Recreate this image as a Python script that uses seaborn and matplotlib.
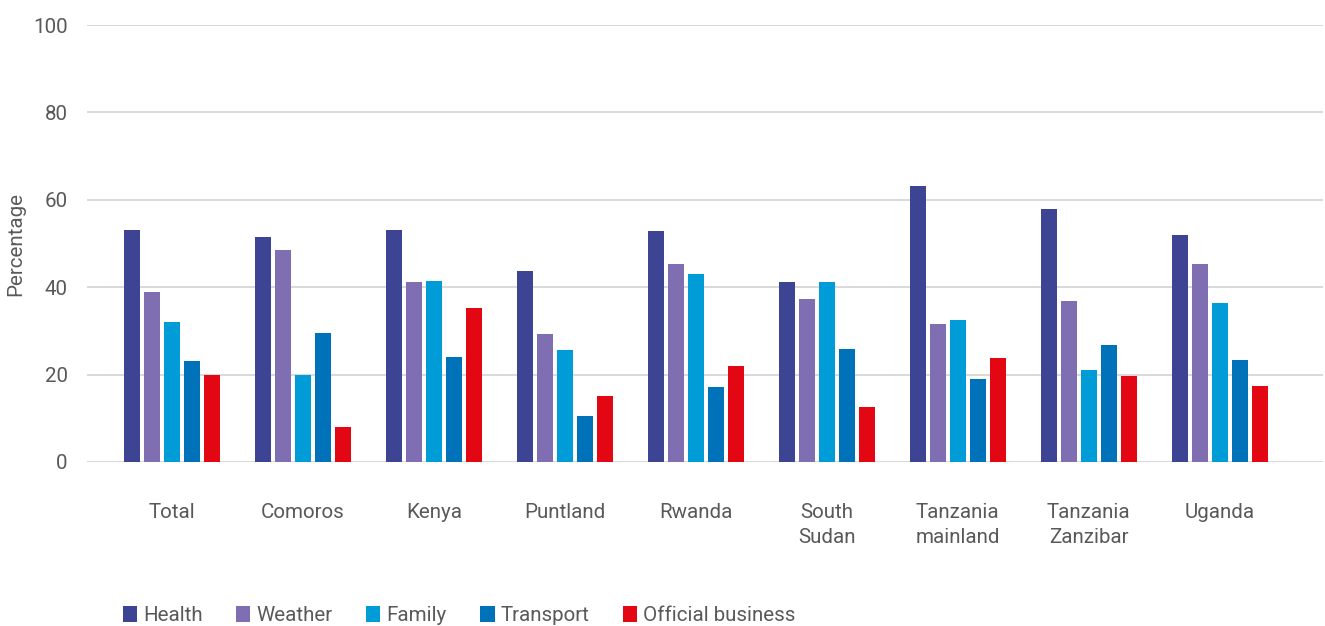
import numpy as np
import pandas as pd
import matplotlib
matplotlib.use("Agg")
import matplotlib.pyplot as plt
import seaborn as sns

# Reasons for travel, share of respondents by country/region
regions = ["Total", "Comoros", "Kenya", "Puntland", "Rwanda",
           "South\nSudan", "Tanzania\nmainland", "Tanzania\nZanzibar", "Uganda"]
reasons = ["Health", "Weather", "Family", "Transport", "Official business"]

health = [53.0, 51.6, 53.1, 43.6, 52.8, 41.1, 63.1, 58.0, 51.9]
weather = [39.0, 48.5, 41.1, 29.4, 45.3, 37.4, 31.5, 36.8, 45.4]
family = [32.0, 19.9, 41.4, 25.6, 43.0, 41.1, 32.4, 21.0, 36.3]
transport = [23.0, 29.5, 24.1, 10.5, 17.2, 25.8, 19.1, 26.7, 23.3]
official = [20.0, 7.9, 35.3, 15.0, 21.9, 12.6, 23.7, 19.6, 17.3]

colors = ["#3c4493", "#7f6fb2", "#009cd8", "#0072b9", "#e30613"]

series = [health, weather, family, transport, official]
df = pd.DataFrame({
    "Region": np.tile(regions, len(reasons)),
    "Reason": np.repeat(reasons, len(regions)),
    "Percentage": np.concatenate(series),
})

sns.set_theme(style="white")
plt.rcParams["font.family"] = ["Roboto", "DejaVu Sans"]
text_color = "#595959"
fs = 14.8

fig = plt.figure(figsize=(13.25, 6.26), dpi=100)
ax = fig.add_axes([0.0657, 0.262, 0.9328, 0.698])

sns.barplot(data=df, x="Region", y="Percentage", hue="Reason",
            order=regions, hue_order=reasons, palette=colors,
            width=0.764, gap=0.2, saturation=1, errorbar=None,
            edgecolor="none", ax=ax, zorder=3)

ax.set_ylim(0, 100)
ax.set_xlim(-0.65, 8.79)
ax.set_yticks([0, 20, 40, 60, 80, 100])
ax.yaxis.grid(True, color="#d9d9d9", linewidth=1.4, zorder=0)
ax.set_axisbelow(True)
for s in ax.spines.values():
    s.set_visible(False)

ax.tick_params(axis="x", length=0, pad=29.5, labelsize=fs, colors=text_color)
ax.tick_params(axis="y", length=0, pad=14, labelsize=fs, colors=text_color)
for lab in ax.get_xticklabels():
    lab.set_horizontalalignment("center")
    lab.set_multialignment("center")
    lab.set_verticalalignment("top")
    lab.set_linespacing(1.38)
ax.set_xlabel("")
ax.set_ylabel("Percentage", fontsize=fs, color=text_color)
ax.yaxis.set_label_coords(-0.050, 0.5)

handles, labels = ax.get_legend_handles_labels()
ax.get_legend().remove()
fig.legend(handles, labels, loc="center left", bbox_to_anchor=(0.0925, 0.0165),
           ncol=5, frameon=False, fontsize=fs, labelcolor=text_color,
           handlelength=0.7, handleheight=0.85, handletextpad=0.3,
           columnspacing=1.62, borderpad=0, borderaxespad=0)

fig.savefig("out.png", dpi=100, facecolor="white")
